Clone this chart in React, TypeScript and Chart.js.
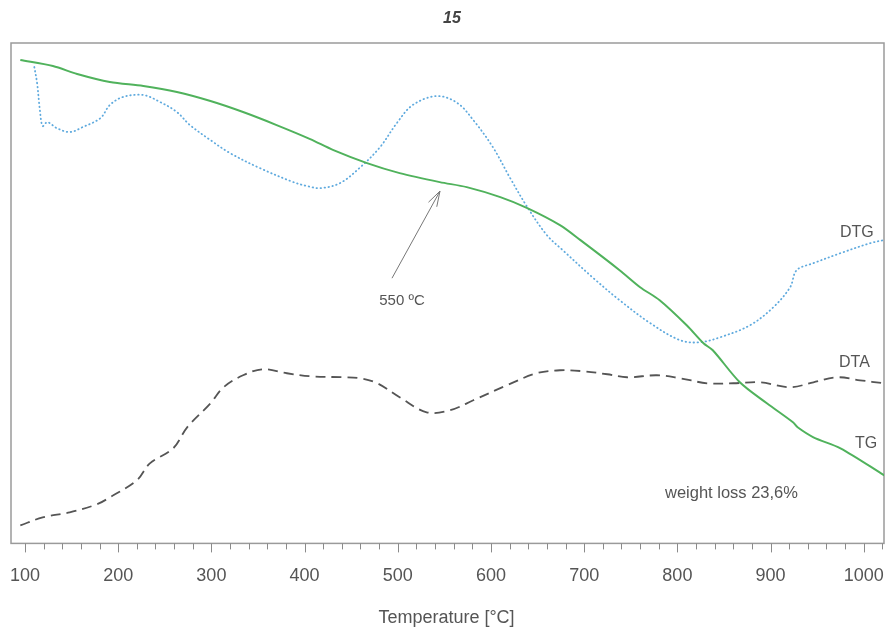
import { useEffect, useRef } from 'react';
import { Chart, registerables } from 'chart.js';

Chart.register(...registerables);

const FONT = '"Liberation Sans", Arial, Helvetica, sans-serif';

// Temperature (°C) and relative signal values (arbitrary units, 0-100)
const tgTemp = [95, 130, 156, 191, 227, 263, 299, 334, 370, 406, 431, 467, 502, 545, 574, 610, 639, 674, 696, 738, 760, 781, 810, 828, 838, 867, 896, 924, 929, 946, 975, 1022];
const tgValue = [96.6, 95.4, 93.8, 92.2, 91.4, 90.2, 88.4, 86.2, 83.6, 80.8, 78.6, 76, 74, 72.2, 71.2, 69.2, 67, 63.6, 60.6, 54.6, 51.2, 48.6, 43.6, 40, 38.6, 32.2, 28, 24.2, 23.2, 21.2, 19, 13.6];

const dtgTemp = [110, 113, 116, 119, 124, 134, 148, 162, 181, 191, 205, 227, 245, 263, 277, 299, 320, 352, 388, 403, 417, 438, 460, 481, 499, 516, 542, 564, 581, 602, 620, 639, 660, 677, 710, 738, 771, 803, 824, 846, 878, 903, 921, 928, 946, 975, 1007, 1021];
const dtgValue = [95.2, 92, 86.6, 83.4, 84.2, 83, 82.2, 83.2, 85, 87.6, 89.2, 89.6, 88.2, 86.2, 83.6, 80.6, 78, 75, 72.2, 71.4, 71, 72, 75.2, 79.2, 84, 87.6, 89.4, 88, 84.6, 79.2, 73.2, 67.2, 61.6, 58.6, 53, 48.6, 44, 40.6, 40.2, 41.2, 43.6, 47.2, 51.2, 54.6, 56, 58, 60, 60.6];

const dtaTemp = [95, 119, 148, 177, 191, 220, 234, 259, 274, 299, 313, 334, 355, 381, 406, 441, 460, 478, 502, 531, 556, 581, 617, 649, 674, 699, 725, 746, 778, 803, 832, 860, 889, 921, 946, 971, 996, 1021];
const dtaValue = [3.6, 5.2, 6.2, 7.8, 9.2, 12.6, 16, 19, 23.2, 28, 31.2, 33.6, 34.8, 34, 33.4, 33.2, 33, 32, 29.2, 26.2, 26.6, 28.6, 31.6, 34, 34.6, 34.4, 33.8, 33.2, 33.6, 33, 32, 32, 32.2, 31.2, 32.2, 33.2, 32.6, 32];

const xMin = 85;
const xMax = 1021.7;
const tickStart = 100;
const tickEnd = 1020;
const minorStep = 20;
const majorStep = 100;

const chartTitle = '15';
const xTitle = 'Temperature [°C]';

// annotations in data coordinates
const seriesLabels = [
  { text: 'DTG', t: 974.5, v: 62.2, size: 16 },
  { text: 'DTA', t: 973.4, v: 36.2, size: 16 },
  { text: 'TG', t: 990.6, v: 20, size: 16 },
  { text: 'weight loss 23,6%', t: 786.7, v: 10, size: 16.5 },
];
const arrowTip = { t: 545.3, v: 70.4 };
const arrowTail = { t: 493.8, v: 53 };
const arrowLabel = { text: '550 ºC', t: 504.5, v: 48.4 };

const toXY = (ts: number[], vs: number[]) => ts.map((t, i) => ({ x: t, y: vs[i] }));

export default function App() {
  const ref = useRef<HTMLCanvasElement | null>(null);

  useEffect(() => {
    if (!ref.current) return;

    const decor = {
      id: 'decor',
      beforeDatasetsDraw(chart: any) {
        const { ctx, chartArea } = chart;
        const { left, top, right, bottom } = chartArea;
        const xs = chart.scales.x;
        ctx.save();
        ctx.strokeStyle = '#9a9a9a';
        ctx.lineWidth = 1.5;
        ctx.strokeRect(left, top, right - left, bottom - top);
        ctx.strokeStyle = '#8a8a8a';
        ctx.lineWidth = 1;
        for (let v = tickStart; v <= tickEnd; v += minorStep) {
          const x = Math.round(xs.getPixelForValue(v)) + 0.5;
          const len = v % majorStep === 0 ? 9 : 6;
          ctx.beginPath();
          ctx.moveTo(x, bottom);
          ctx.lineTo(x, bottom + len);
          ctx.stroke();
        }
        ctx.restore();
      },
      afterDraw(chart: any) {
        const { ctx, chartArea } = chart;
        const xs = chart.scales.x;
        const ys = chart.scales.y;
        ctx.save();
        ctx.fillStyle = '#444';
        ctx.font = `italic bold 16px ${FONT}`;
        ctx.textAlign = 'center';
        ctx.textBaseline = 'middle';
        ctx.fillText(chartTitle, 452, 19);
        ctx.font = `18px ${FONT}`;
        ctx.fillStyle = '#555';
        ctx.fillText(xTitle, (chartArea.left + chartArea.right) / 2 - 1, 618);
        ctx.textAlign = 'left';
        for (const l of seriesLabels) {
          ctx.font = `${l.size}px ${FONT}`;
          ctx.fillText(l.text, xs.getPixelForValue(l.t), ys.getPixelForValue(l.v));
        }
        const x1 = xs.getPixelForValue(arrowTail.t);
        const y1 = ys.getPixelForValue(arrowTail.v);
        const x2 = xs.getPixelForValue(arrowTip.t);
        const y2 = ys.getPixelForValue(arrowTip.v);
        ctx.strokeStyle = '#777';
        ctx.lineWidth = 1;
        ctx.beginPath();
        ctx.moveTo(x1, y1);
        ctx.lineTo(x2, y2);
        const ang = Math.atan2(y2 - y1, x2 - x1);
        const hl = 16;
        for (const d of [-0.3, 0.3]) {
          ctx.moveTo(x2, y2);
          ctx.lineTo(x2 - hl * Math.cos(ang + d), y2 - hl * Math.sin(ang + d));
        }
        ctx.stroke();
        ctx.textAlign = 'center';
        ctx.font = `15px ${FONT}`;
        ctx.fillStyle = '#555';
        ctx.fillText(arrowLabel.text, xs.getPixelForValue(arrowLabel.t), ys.getPixelForValue(arrowLabel.v));
        ctx.restore();
      },
    };

    const chart = new Chart(ref.current, {
      type: 'line',
      data: {
        datasets: [
          {
            label: 'TG',
            data: toXY(tgTemp, tgValue),
            borderColor: 'rgb(80,178,92)',
            borderWidth: 2,
            tension: 0.3,
            pointRadius: 0,
          },
          {
            label: 'DTG',
            data: toXY(dtgTemp, dtgValue),
            borderColor: 'rgb(95,170,222)',
            borderWidth: 1.8,
            borderDash: [0.5, 3.5],
            borderCapStyle: 'round',
            tension: 0.35,
            pointRadius: 0,
          },
          {
            label: 'DTA',
            data: toXY(dtaTemp, dtaValue),
            borderColor: '#555',
            borderWidth: 1.8,
            borderDash: [10, 6],
            tension: 0.35,
            pointRadius: 0,
          },
        ],
      },
      options: {
        animation: false,
        responsive: false,
        maintainAspectRatio: false,
        layout: { padding: { left: 11, top: 43, right: 3, bottom: 43 } },
        plugins: {
          legend: { display: false },
          tooltip: { enabled: false },
          title: { display: false },
        },
        scales: {
          x: {
            type: 'linear',
            min: xMin,
            max: xMax,
            afterBuildTicks: (scale: any) => {
              const t = [];
              for (let v = tickStart; v <= tickEnd; v += minorStep) t.push({ value: v });
              scale.ticks = t;
            },
            ticks: {
              autoSkip: false,
              maxRotation: 0,
              padding: 0,
              color: '#555',
              font: { family: FONT, size: 18 },
              callback: (v: any) => (v % majorStep === 0 ? String(v) : ''),
            },
            grid: { display: true, drawOnChartArea: false, drawTicks: true, tickLength: 22, tickColor: 'rgba(0,0,0,0)' },
            border: { display: false },
          },
          y: { display: false, min: 0, max: 100 },
        },
      },
      plugins: [decor],
    } as any);

    return () => chart.destroy();
  }, []);

  return (
    <div style={{ position: 'fixed', left: 0, top: 0, width: 887, height: 630, background: '#fff' }}>
      <canvas ref={ref} width={887} height={630} style={{ display: 'block', width: 887, height: 630 }} />
    </div>
  );
}
